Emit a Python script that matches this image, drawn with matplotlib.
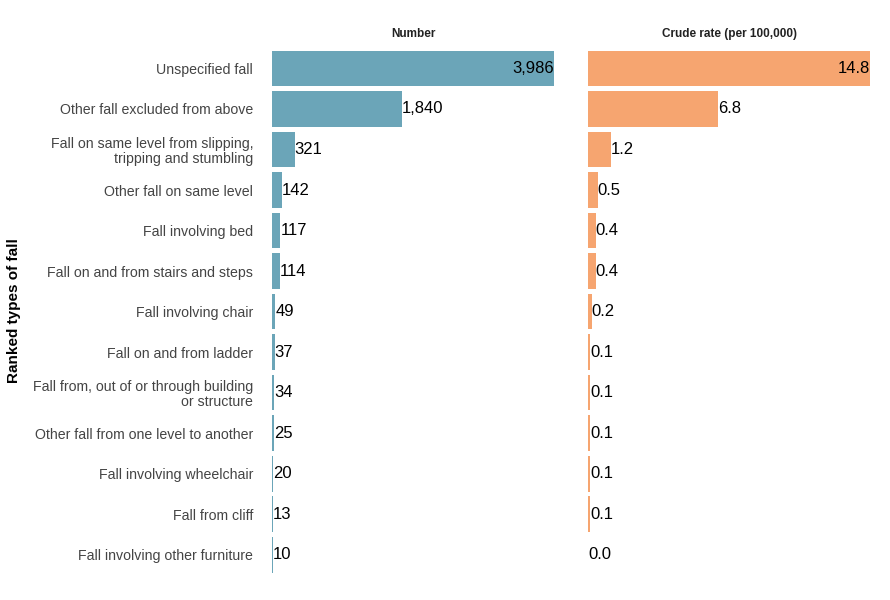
import matplotlib.pyplot as plt

plt.rcParams['font.family'] = ['Liberation Sans', 'DejaVu Sans']

fall_types = [
    "Unspecified fall",
    "Other fall excluded from above",
    "Fall on same level from slipping,\ntripping and stumbling",
    "Other fall on same level",
    "Fall involving bed",
    "Fall on and from stairs and steps",
    "Fall involving chair",
    "Fall on and from ladder",
    "Fall from, out of or through building\nor structure",
    "Other fall from one level to another",
    "Fall involving wheelchair",
    "Fall from cliff",
    "Fall involving other furniture",
]
numbers = [3986, 1840, 321, 142, 117, 114, 49, 37, 34, 25, 20, 13, 10]
rates = [14.8, 6.8, 1.2, 0.5, 0.4, 0.4, 0.2, 0.1, 0.1, 0.1, 0.1, 0.1, 0.0]


def draw_panel(ax, values, color, title, fmt):
    pos = list(range(len(values)))
    ax.barh(pos, values, height=0.88, color=color)
    ax.set_ylim(len(values) - 0.5, -0.5)
    ax.set_xlim(0, max(values))
    top = max(values)
    for p, v in zip(pos, values):
        if v == top:
            ax.text(v, p, fmt(v), ha='right', va='center', fontsize=12)
        else:
            ax.text(v, p, fmt(v), ha='left', va='center', fontsize=12)
    ax.set_title(title, fontsize=8.5, fontweight='bold', color='#222222', pad=8)
    ax.set_xticks([])
    for s in ax.spines.values():
        s.set_visible(False)


fig = plt.figure(figsize=(8.9, 6), dpi=100)
ax1 = fig.add_axes([0.3056, 0.0417, 0.317, 0.878])
ax2 = fig.add_axes([0.6607, 0.0417, 0.317, 0.878])

draw_panel(ax1, numbers, '#6ba5b8', 'Number', lambda v: f"{v:,}")
draw_panel(ax2, rates, '#f6a570', 'Crude rate (per 100,000)', lambda v: f"{v:.1f}")

ax1.set_yticks(range(len(fall_types)))
ax1.set_yticklabels(fall_types, fontsize=10.2, color='#444444', linespacing=1.05)
ax1.tick_params(axis='y', length=0, pad=13.5)
ax2.set_yticks([])

fig.text(0.016, 0.483, "Ranked types of fall", rotation=90, ha='center',
         va='center', fontsize=11, fontweight='bold')

fig.savefig("out.png", dpi=100)
